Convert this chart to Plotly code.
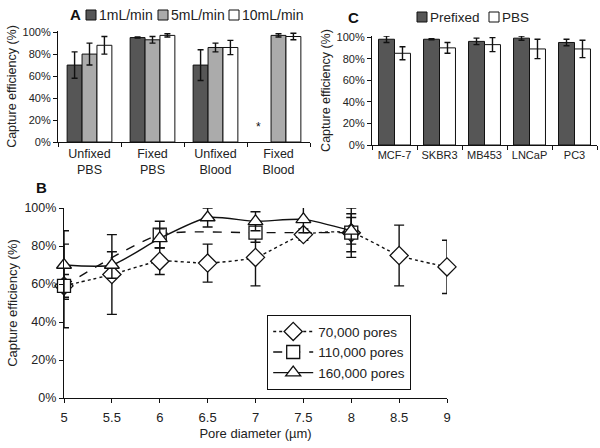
import plotly.graph_objects as go

FONT = "Liberation Sans, Arial, sans-serif"

# ---------------- Panel A data ----------------
a_categories = ["Unfixed<br>PBS", "Fixed<br>PBS", "Unfixed<br>Blood", "Fixed<br>Blood"]
a_series = ["1mL/min", "5mL/min", "10mL/min"]
a_1ml = [70, 95, 70, None]
a_1ml_err = [12, 0.5, 14, 0]
a_5ml = [80, 93, 86, 97]
a_5ml_err = [10, 3, 4, 1.5]
a_10ml = [88, 97, 86, 96]
a_10ml_err = [8, 1.5, 6.5, 3]

# ---------------- Panel C data ----------------
c_categories = ["MCF-7", "SKBR3", "MB453", "LNCaP", "PC3"]
c_series = ["Prefixed", "PBS"]
c_prefixed = [98, 98, 96, 99, 95]
c_prefixed_err = [3, 0.5, 3, 2, 3]
c_pbs = [85, 90, 93, 89, 89]
c_pbs_err = [6, 5, 6.5, 9, 8]

# ---------------- Panel B data ----------------
b_series = ["70,000 pores", "110,000 pores", "160,000 pores"]
b70_x = [5, 5.5, 6, 6.5, 7, 7.5, 8, 8.5, 9]
b70_y = [59, 65, 72, 71, 74, 86, 87, 75, 69]
b70_err = [22, 21, 7, 10, 15, 3, 13, 16, 14]
b110_x = [5, 6, 7, 8]
b110_y = [59, 86, 87, 87]
b110_err = [6, 7, 5, 10]
b160_x = [5, 5.5, 6, 6.5, 7, 7.5, 8]
b160_y = [70, 70, 84, 95, 93, 94, 88]
b160_err = [18, 7, 5, 5, 5, 7, 7]
b_ticks = [5, 5.5, 6, 6.5, 7, 7.5, 8, 8.5, 9]

pct_ticks = [0, 20, 40, 60, 80, 100]
pct_labels = ["0%", "20%", "40%", "60%", "80%", "100%"]

DARK, LIGHT, WHITE, INK = "#565656", "#ababab", "#ffffff", "#111111"

fig = go.Figure()

err_style = dict(type="data", color=INK, thickness=1.4, width=3)

# Panel A bars
a_colors = [DARK, LIGHT, WHITE]
for name, vals, errs, color in zip(a_series, [a_1ml, a_5ml, a_10ml],
                                   [a_1ml_err, a_5ml_err, a_10ml_err], a_colors):
    fig.add_trace(go.Bar(
        x=a_categories, y=vals, name=name, showlegend=False,
        marker=dict(color=color, line=dict(color=INK, width=1)),
        error_y=dict(array=errs, **err_style),
        xaxis="x", yaxis="y",
    ))

# Panel C bars
c_colors = [DARK, WHITE]
for name, vals, errs, color in zip(c_series, [c_prefixed, c_pbs],
                                   [c_prefixed_err, c_pbs_err], c_colors):
    fig.add_trace(go.Bar(
        x=c_categories, y=vals, name=name, showlegend=False,
        marker=dict(color=color, line=dict(color=INK, width=1)),
        error_y=dict(array=errs, **err_style),
        xaxis="x2", yaxis="y2", offsetgroup=name,
    ))

# Panel B lines
for name, xs, ys, errs, dash, sym in zip(
    b_series, [b70_x, b110_x, b160_x], [b70_y, b110_y, b160_y],
    [b70_err, b110_err, b160_err], ["dot", "dash", "solid"],
    ["diamond", "square", "triangle-up"],
):
    fig.add_trace(go.Scatter(
        x=xs, y=ys, name=name, mode="lines+markers", cliponaxis=False,
        line=dict(color=INK, width=1.4, dash=dash, shape="spline", smoothing=0.6),
        marker=dict(symbol=sym, size=13 if sym != "diamond" else 14, color="white",
                    line=dict(color=INK, width=1.3)),
        error_y=dict(array=errs, type="data", color=INK, thickness=1.4, width=5),
        xaxis="x3", yaxis="y3", legend="legend",
    ))

def axis(size, **kw):
    d = dict(showline=True, linecolor=INK, linewidth=1.2, ticks="outside",
             tickcolor=INK, ticklen=4, showgrid=False, zeroline=False,
             automargin=False,
             tickfont=dict(family=FONT, size=size, color="#222"))
    d.update(kw)
    return d

ytitle = lambda s: dict(text="Capture efficiency (%)", font=dict(size=s), standoff=3)

# Legends for A and C drawn as swatches + text in paper coordinates
shapes = []
annotations = []

def swatch(x0, yc, color, label, size):
    shapes.append(dict(type="rect", xref="paper", yref="paper",
                       x0=x0/600, x1=(x0+10)/600, y0=1-(yc+5)/448, y1=1-(yc-5)/448,
                       fillcolor=color, line=dict(color=INK, width=1)))
    annotations.append(dict(text=label, x=(x0+11)/600, y=1-yc/448, xref="paper",
                            yref="paper", xanchor="left", yanchor="middle",
                            showarrow=False, font=dict(size=size, color="#222")))

for x0, color, label in zip([86, 158, 229], a_colors, a_series):
    swatch(x0, 15, color, label, 14)
for x0, color, label in zip([417, 489], c_colors, c_series):
    swatch(x0, 17, color, label, 13.5)

def label(text, x, y, size):
    annotations.append(dict(text=text, x=x/600, y=1-y/448, xref="paper", yref="paper",
                            xanchor="center", yanchor="middle", showarrow=False,
                            font=dict(size=size, color=INK)))

label("<b>A</b>", 75, 14, 15)
label("<b>C</b>", 353, 17, 15)
label("<b>B</b>", 41, 187, 15)
label("*", 258, 127, 12)

fig.update_layout(
    width=600, height=448,
    margin=dict(l=0, r=0, t=0, b=0, autoexpand=False),
    plot_bgcolor="white", paper_bgcolor="white",
    font=dict(family=FONT, size=13, color="#222"),
    barmode="group",
    bargap=0.29,
    xaxis=axis(12.5, domain=[58/600, 310/600], anchor="y", tickson="boundaries",
               tickangle=0),
    yaxis=axis(11, domain=[1-142/448, 1-31/448], anchor="x", range=[0, 101],
               tickvals=pct_ticks, ticktext=pct_labels, title=ytitle(12.5)),
    xaxis2=axis(11, domain=[372/600, 597/600], anchor="y2", tickson="boundaries",
                tickangle=0),
    yaxis2=axis(11, domain=[1-145/448, 1-36/448], anchor="x2", range=[0, 101],
                tickvals=pct_ticks, ticktext=pct_labels, title=ytitle(12.5)),
    xaxis3=axis(13, domain=[64/600, 447/600], anchor="y3", range=[5, 9],
                tickvals=b_ticks, ticktext=[str(t) for t in b_ticks],
                ticklabelstandoff=3,
                title=dict(text="Pore diameter (µm)", font=dict(size=13), standoff=5)),
    yaxis3=axis(12.5, domain=[1-398/448, 1-208/448], anchor="x3", range=[0, 100],
                tickvals=pct_ticks, ticktext=pct_labels, title=ytitle(13)),
    legend=dict(x=267/600, y=1-315/448, xanchor="left", yanchor="top",
                font=dict(size=13.5), itemwidth=40, bordercolor=INK, borderwidth=1.2,
                bgcolor="white", tracegroupgap=0),
    shapes=shapes,
    annotations=annotations,
)

fig.write_html("out.html", config={"displayModeBar": False},
               post_script="document.body.style.margin='0';")
